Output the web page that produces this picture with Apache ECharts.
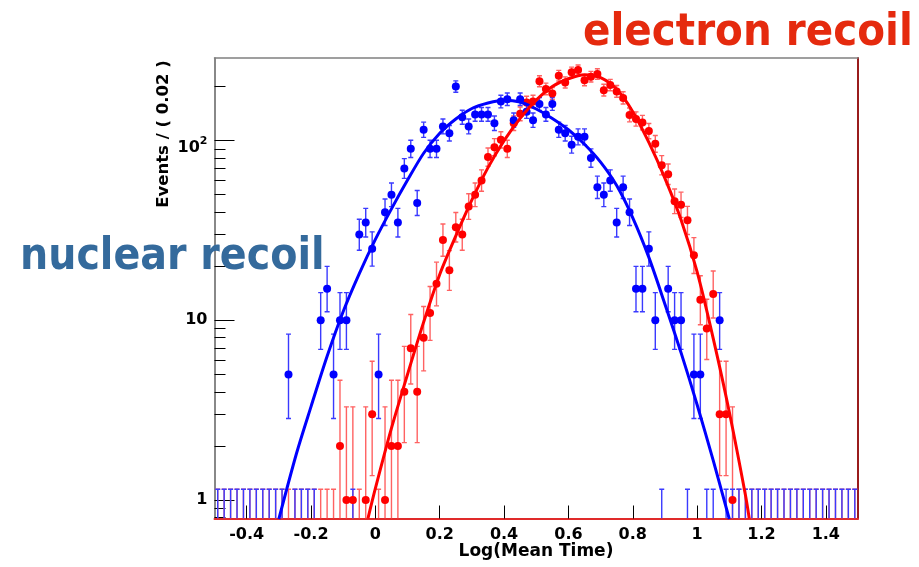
<!DOCTYPE html>
<html>
<head>
<meta charset="utf-8">
<script src="https://cdn.jsdelivr.net/npm/echarts@6/dist/echarts.min.js"></script>
<style>
  html, body { margin: 0; padding: 0; background: #fff; }
  #chart { width: 919px; height: 567px; }
</style>
</head>
<body>
<div id="chart"></div>
<script>
// Binning of Log(Mean Time): 100 bins of width 0.02 on [-0.5, 1.5]
const binLow = -0.5;
const binWidth = 0.02;
const nBins = 100;
const binCenters = Array.from({ length: nBins }, (_, i) => +(binLow + binWidth * (i + 0.5)).toFixed(2));

// Events per bin, nuclear recoils (blue)
const nuclearCounts = [
  0, 0, 0, 0, 0, 0, 0, 0, 0, 0,
  0, 5, 0, 0, 0, 0, 10, 15, 5, 10,
  10, 0, 30, 35, 25, 5, 40, 50, 35, 70,
  90, 45, 115, 90, 90, 120, 110, 200, 135, 120,
  140, 140, 140, 125, 165, 170, 130, 170, 145, 130,
  160, 140, 160, 115, 110, 95, 105, 105, 80, 55,
  50, 60, 35, 55, 40, 15, 15, 25, 10, 0,
  15, 10, 10, 0, 5, 5, 0, 0, 10, 0,
  0, 0, 0, 0, 0, 0, 0, 0, 0, 0,
  0, 0, 0, 0, 0, 0, 0, 0, 0, 0
];

// Events per bin, electron recoils (red)
const electronCounts = [
  0, 0, 0, 0, 0, 0, 0, 0, 0, 0,
  0, 0, 0, 0, 0, 0, 0, 0, 0, 2,
  1, 1, 0, 1, 3, 0, 1, 2, 2, 4,
  7, 4, 8, 11, 16, 28, 19, 33, 30, 43,
  50, 60, 81, 92, 101, 90, 125, 141, 163, 165,
  214, 194, 183, 230, 211, 240, 247, 217, 227, 235,
  191, 204, 188, 173, 139, 132, 126, 113, 96, 73,
  65, 46, 44, 36, 23, 13, 9, 14, 3, 3,
  1, 0, 0, 0, 0, 0, 0, 0, 0, 0,
  0, 0, 0, 0, 0, 0, 0, 0, 0, 0
];

// Fitted model curves, sampled along Log(Mean Time)
const nuclearFitX = [-0.30, -0.245, -0.20, -0.15, -0.10, -0.05, 0.00, 0.05, 0.10, 0.15, 0.20, 0.25, 0.30,
  0.35, 0.40, 0.45, 0.50, 0.55, 0.60, 0.65, 0.70, 0.75, 0.80, 0.85, 0.90, 0.95, 1.00, 1.05, 1.10];
const nuclearFitY = [0.784, 1.82, 3.31, 6.31, 11.2, 18.2, 28.2, 41.7, 60.3, 85.1, 110, 132, 151,
  162, 168, 164, 150, 133, 115, 95.5, 75.9, 56.2, 37.2, 22.4, 12.3, 6.61, 3.39, 1.66, 0.784];
const electronFitX = [-0.023, 0.00, 0.05, 0.10, 0.15, 0.20, 0.25, 0.30, 0.35, 0.40, 0.45, 0.50, 0.55,
  0.60, 0.65, 0.70, 0.75, 0.80, 0.85, 0.90, 0.95, 1.00, 1.05, 1.10, 1.15, 1.162];
const electronFitY = [0.79, 1.16, 2.51, 5.01, 9.77, 18.0, 29.5, 46.8, 70.8, 100, 133, 168, 200,
  221, 233, 224, 193, 145, 97.7, 61.7, 36.3, 18.6, 7.94, 3.09, 1.07, 0.79];

// Axis ticks
const xTickValues = [-0.4, -0.2, 0, 0.2, 0.4, 0.6, 0.8, 1, 1.2, 1.4];
const yMajorTicks = [1, 10, 100];
const yMinorTicks = [0.8, 0.9, 2, 3, 4, 5, 6, 7, 8, 9, 20, 30, 40, 50, 60, 70, 80, 90, 200];
const xRange = [-0.5, 1.5];
const yRange = [0.789, 288.4];

// Poisson cumulative probability P(N <= k | mu)
function poissonCdf(k, mu) {
  if (k < 0) return 0;
  let t = Math.exp(-mu), s = t;
  for (let i = 1; i <= k; i++) { t *= mu / i; s += t; }
  return s;
}
function solveDecreasing(f, lo, hi) {
  for (let it = 0; it < 80; it++) {
    const mid = 0.5 * (lo + hi);
    if (f(mid) > 0) lo = mid; else hi = mid;
  }
  return 0.5 * (lo + hi);
}
// 68% Poisson interval (one-sided for empty bins)
function poissonInterval(n) {
  const a = 0.158655;
  if (n === 0) return [0, -Math.log(1 - 2 * 0.341345)];
  const hi = solveDecreasing(mu => poissonCdf(n, mu) - a, n, n + 6 * Math.sqrt(n + 1) + 6);
  const lo = solveDecreasing(mu => poissonCdf(n - 1, mu) - (1 - a), 0, n);
  return [lo, hi];
}

function errorBarData(counts) {
  return counts.map((n, i) => {
    const [lo, hi] = poissonInterval(n);
    const hasLowCap = lo >= yRange[0] ? 1 : 0;
    return [binCenters[i], Math.max(lo, yRange[0]), hi, hasLowCap];
  });
}
function pointData(counts) {
  return counts.map((n, i) => [binCenters[i], n]).filter(d => d[1] > 0);
}
function errorBarRenderer(color) {
  return function (params, api) {
    const x = api.value(0);
    const top = api.coord([x, api.value(2)]);
    const bot = api.coord([x, api.value(1)]);
    const half = 2.5;
    const style = { stroke: color, lineWidth: 1.4 };
    const children = [
      { type: 'line', shape: { x1: top[0], y1: top[1], x2: bot[0], y2: bot[1] }, style },
      { type: 'line', shape: { x1: top[0] - half, y1: top[1], x2: top[0] + half, y2: top[1] }, style }
    ];
    if (api.value(3) === 1) {
      children.push({ type: 'line', shape: { x1: bot[0] - half, y1: bot[1], x2: bot[0] + half, y2: bot[1] }, style });
    }
    return { type: 'group', children };
  };
}

const labelFont = 'DejaVu Sans';
const blue = '#0000ff';
const red = '#ff0000';

const chart = echarts.init(document.getElementById('chart'), null, { renderer: 'canvas' });
chart.setOption({
  animation: false,
  backgroundColor: '#ffffff',
  grid: { left: 214.5, top: 58, width: 643.5, height: 460.5, containLabel: false },
  xAxis: [
    {
      type: 'value', min: xRange[0], max: xRange[1], position: 'bottom',
      axisLine: { show: true, onZero: false, lineStyle: { color: '#e02a2a', width: 2 } },
      axisTick: { show: true, inside: true, length: 13, customValues: xTickValues, lineStyle: { color: '#000', width: 1 } },
      axisLabel: {
        customValues: xTickValues, margin: 8, color: '#000',
        fontFamily: labelFont, fontWeight: 'bold', fontSize: 16,
        formatter: v => String(+Number(v).toFixed(1))
      },
      splitLine: { show: false }
    },
    {
      type: 'value', min: xRange[0], max: xRange[1], position: 'top',
      axisLine: { show: true, onZero: false, lineStyle: { color: '#808080', width: 1.5 } },
      axisTick: { show: false }, axisLabel: { show: false }, splitLine: { show: false }
    }
  ],
  yAxis: [
    {
      type: 'log', logBase: 10, min: yRange[0], max: yRange[1], position: 'left',
      axisLine: { show: true, onZero: false, lineStyle: { color: '#606060', width: 1.5 } },
      axisTick: { show: true, inside: true, length: 20, customValues: yMajorTicks, lineStyle: { color: '#000', width: 1 } },
      minorTick: { show: false },
      axisLabel: {
        customValues: yMajorTicks, margin: 7, color: '#000',
        formatter: v => Math.round(v) === 100 ? '{d|10}{s|2}' : '{m|' + Math.round(v) + '}',
        rich: {
          m: { fontFamily: labelFont, fontWeight: 'bold', fontSize: 16, color: '#000' },
          d: { fontFamily: labelFont, fontWeight: 'bold', fontSize: 16, color: '#000', padding: [14, 0, 0, 0] },
          s: { fontFamily: labelFont, fontWeight: 'bold', fontSize: 11, color: '#000' }
        }
      },
      splitLine: { show: false }
    },
    {
      type: 'log', logBase: 10, min: yRange[0], max: yRange[1], position: 'left',
      axisLine: { show: false, onZero: false },
      axisTick: { show: true, inside: true, length: 11, customValues: yMinorTicks, lineStyle: { color: '#000', width: 1 } },
      axisLabel: { show: false }, splitLine: { show: false }
    },
    {
      type: 'log', logBase: 10, min: yRange[0], max: yRange[1], position: 'right',
      axisLine: { show: true, onZero: false, lineStyle: { color: '#9a1c1c', width: 2 } },
      axisTick: { show: false }, axisLabel: { show: false }, splitLine: { show: false }
    }
  ],
  series: [
    {
      name: 'electron errors', type: 'custom', xAxisIndex: 0, yAxisIndex: 0,
      renderItem: errorBarRenderer('#ff6262'),
      encode: { x: 0, y: [1, 2] },
      data: errorBarData(electronCounts), clip: true
    },
    {
      name: 'electron', type: 'scatter', xAxisIndex: 0, yAxisIndex: 0,
      symbol: 'circle', symbolSize: 8, itemStyle: { color: red, opacity: 1 },
      data: pointData(electronCounts)
    },
    {
      name: 'nuclear errors', type: 'custom', xAxisIndex: 0, yAxisIndex: 0,
      renderItem: errorBarRenderer('#3a3aff'),
      encode: { x: 0, y: [1, 2] },
      data: errorBarData(nuclearCounts), clip: true
    },
    {
      name: 'nuclear', type: 'scatter', xAxisIndex: 0, yAxisIndex: 0,
      symbol: 'circle', symbolSize: 8, itemStyle: { color: blue, opacity: 1 },
      data: pointData(nuclearCounts)
    },
    {
      name: 'nuclear fit', type: 'line', xAxisIndex: 0, yAxisIndex: 0,
      smooth: 0.3, showSymbol: false, lineStyle: { color: blue, width: 3 },
      data: nuclearFitX.map((x, i) => [x, nuclearFitY[i]])
    },
    {
      name: 'electron fit', type: 'line', xAxisIndex: 0, yAxisIndex: 0,
      smooth: 0.3, showSymbol: false, lineStyle: { color: red, width: 3 },
      data: electronFitX.map((x, i) => [x, electronFitY[i]])
    }
  ],
  graphic: [
    {
      type: 'text', x: 536, y: 552, z: 10,
      style: { text: 'Log(Mean Time)', font: 'bold 17px "DejaVu Sans"', fill: '#000', align: 'center', verticalAlign: 'middle' }
    },
    {
      type: 'text', x: 164, y: 134, rotation: Math.PI / 2, z: 10,
      style: { text: 'Events / ( 0.02 )', font: 'bold 16.5px "DejaVu Sans"', fill: '#000', align: 'center', verticalAlign: 'middle' }
    },
    {
      type: 'text', x: 583, y: 34, scaleX: 0.92, z: 10,
      style: { text: 'electron recoil', font: 'bold 44px "DejaVu Sans"', fill: '#e52a0e', align: 'left', verticalAlign: 'middle' }
    },
    {
      type: 'text', x: 20, y: 258, scaleX: 0.9, z: 10,
      style: { text: 'nuclear recoil', font: 'bold 44px "DejaVu Sans"', fill: '#346a9c', align: 'left', verticalAlign: 'middle' }
    }
  ]
});
</script>
</body>
</html>
